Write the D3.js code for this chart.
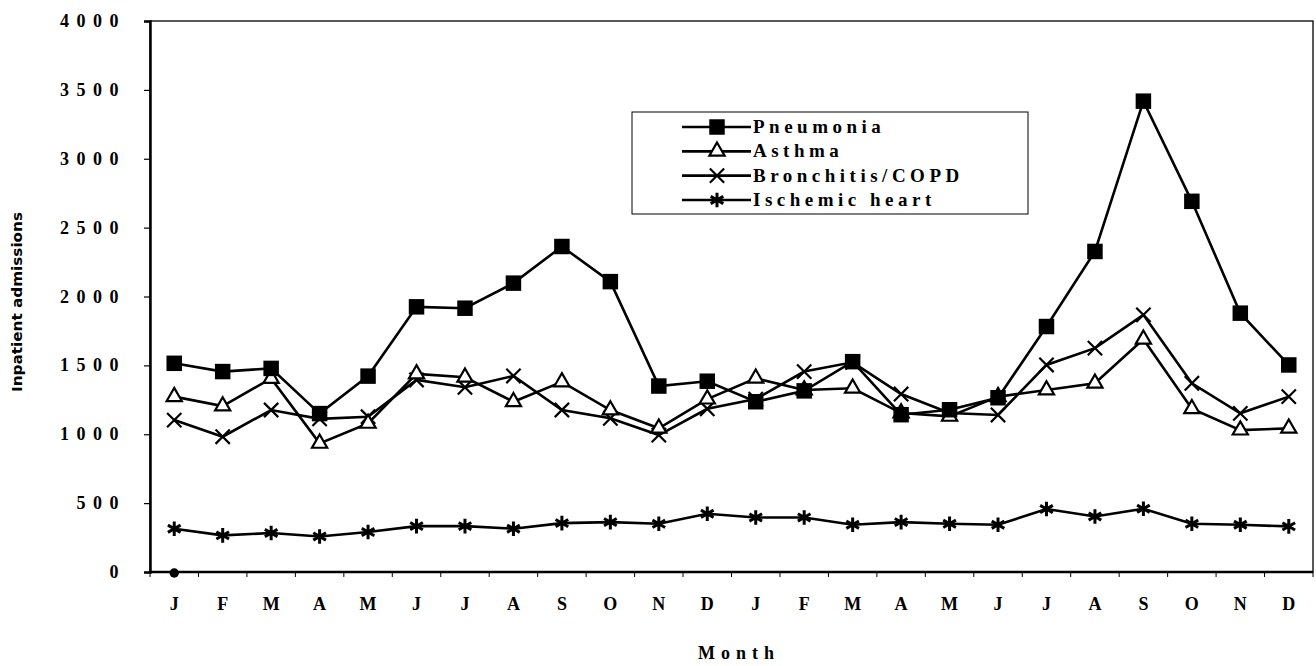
<!DOCTYPE html>
<html>
<head>
<meta charset="utf-8">
<script src="https://cdn.jsdelivr.net/npm/d3@7"></script>
<style>
  body { margin: 0; background: #fff; }
  svg { display: block; }
  .tick-label { font-family: "Liberation Serif", "Times New Roman", serif; font-weight: bold; font-size: 18px; fill: #000; }
  .legend-label { font-family: "Liberation Serif", "Times New Roman", serif; font-weight: bold; font-size: 19px; fill: #000; }
</style>
</head>
<body>
<svg id="chart" width="1316" height="666"></svg>
<script>
// Months (two years)
var months = ['J', 'F', 'M', 'A', 'M', 'J', 'J', 'A', 'S', 'O', 'N', 'D',
  'J', 'F', 'M', 'A', 'M', 'J', 'J', 'A', 'S', 'O', 'N', 'D']

// Series values
var pneumonia = [1515, 1455, 1478, 1150, 1422, 1925, 1915, 2097, 2363, 2108, 1350, 1385,
  1236, 1315, 1527, 1142, 1178, 1265, 1782, 2327, 3418, 2691, 1879, 1503]
var asthma = [1273, 1205, 1405, 934, 1079, 1438, 1414, 1236, 1380, 1176, 1043, 1255,
  1406, 1321, 1334, 1154, 1130, 1273, 1321, 1370, 1690, 1185, 1030, 1043]
var bronchitis = [1103, 982, 1176, 1112, 1127, 1394, 1341, 1423, 1176, 1116, 994, 1185,
  1255, 1455, 1522, 1292, 1154, 1140, 1503, 1625, 1867, 1370, 1152, 1273]
var ischemic = [314, 266, 283, 258, 290, 333, 333, 314, 355, 362, 350, 423,
  396, 396, 343, 362, 350, 343, 457, 403, 459, 350, 343, 331]
var originPoint = [0] // the lone dot sitting on the axis at the first J

var yTicks = [0, 500, 1000, 1500, 2000, 2500, 3000, 3500, 4000]
var seriesNames = ['Pneumonia', 'Asthma', 'Bronchitis/COPD', 'Ischemic heart']

var svg = d3.select('#chart')
var plotLeft = 150, plotRight = 1313, plotTop = 21, plotBottom = 572

var x = d3.scalePoint()
  .domain(d3.range(months.length))
  .range([plotLeft, plotRight])
  .padding(0.5)
var y = d3.scaleLinear().domain([0, 4000]).range([plotBottom, plotTop])
var step = x.step()

// plot frame
svg.append('rect')
  .attr('x', plotLeft).attr('y', plotTop)
  .attr('width', plotRight - plotLeft).attr('height', plotBottom - plotTop)
  .attr('fill', 'none').attr('stroke', '#000').attr('stroke-width', 1.3)

// y axis
var yAxis = svg.append('g')
  .attr('transform', 'translate(' + plotLeft + ',0)')
  .call(d3.axisLeft(y).tickValues(yTicks).tickSize(6).tickFormat(''))
yAxis.select('.domain').attr('stroke-width', 2.5)
yAxis.selectAll('.tick line').attr('stroke-width', 1.2)

svg.append('g').selectAll('text')
  .data(yTicks)
  .enter()
  .append('text')
  .attr('class', 'tick-label')
  .attr('x', 126)
  .attr('y', d => y(d) + 6)
  .attr('text-anchor', 'end')
  .attr('letter-spacing', '7.5px')
  .text(d => d)

// x axis
svg.append('line')
  .attr('x1', plotLeft).attr('x2', plotRight)
  .attr('y1', plotBottom).attr('y2', plotBottom)
  .attr('stroke', '#000').attr('stroke-width', 2.5)
svg.append('g').selectAll('line')
  .data(d3.range(months.length + 1))
  .enter()
  .append('line')
  .attr('x1', d => plotLeft + d * step).attr('x2', d => plotLeft + d * step)
  .attr('y1', plotBottom).attr('y2', plotBottom + 5)
  .attr('stroke', '#000').attr('stroke-width', 1)

svg.append('g').selectAll('text')
  .data(months)
  .enter()
  .append('text')
  .attr('class', 'tick-label')
  .attr('x', (d, i) => x(i))
  .attr('y', 610)
  .attr('text-anchor', 'middle')
  .text(d => d)

// axis titles
svg.append('text')
  .attr('class', 'tick-label')
  .attr('x', 739)
  .attr('y', 659)
  .attr('text-anchor', 'middle')
  .attr('letter-spacing', '6px')
  .text('Month')

svg.append('text')
  .attr('transform', 'translate(22,302) rotate(-90)')
  .attr('text-anchor', 'middle')
  .attr('font-family', '"Liberation Sans Narrow", "DejaVu Sans Condensed", sans-serif')
  .attr('font-weight', 'bold')
  .attr('font-size', '14px')
  .attr('textLength', 180)
  .attr('lengthAdjust', 'spacingAndGlyphs')
  .text('Inpatient admissions')

// series
var symSquare = d3.symbol().type(d3.symbolSquare).size(240)
var symTriangle = d3.symbol().type(d3.symbolTriangle).size(100)
var symTimes = d3.symbol().type(d3.symbolTimes).size(135)
var symAsterisk = d3.symbol().type(d3.symbolAsterisk).size(150)

var series = [
  { name: seriesNames[0], values: pneumonia, sym: symSquare, fill: '#000', stroke: 'none', sw: 0 },
  { name: seriesNames[1], values: asthma, sym: symTriangle, fill: '#fff', stroke: '#000', sw: 2.2 },
  { name: seriesNames[2], values: bronchitis, sym: symTimes, fill: 'none', stroke: '#000', sw: 2.2 },
  { name: seriesNames[3], values: ischemic, sym: symAsterisk, fill: 'none', stroke: '#000', sw: 3 }
]

var line = d3.line()
  .x((d, i) => x(i))
  .y(d => y(d))

// draw bottom-to-top so squares end up on top like the original
var drawOrder = [3, 2, 1, 0]
drawOrder.forEach(function(k) {
  var s = series[k]
  var g = svg.append('g')
  g.append('path')
    .attr('d', line(s.values))
    .attr('fill', 'none')
    .attr('stroke', '#000')
    .attr('stroke-width', 2.6)
  g.selectAll('path.pt')
    .data(s.values)
    .enter()
    .append('path')
    .attr('class', 'pt')
    .attr('transform', (d, i) => 'translate(' + x(i) + ',' + y(d) + ')')
    .attr('d', s.sym)
    .attr('fill', s.fill)
    .attr('stroke', s.stroke)
    .attr('stroke-width', s.sw)
})

svg.append('g').selectAll('path')
  .data(originPoint)
  .enter()
  .append('path')
  .attr('transform', (d, i) => 'translate(' + x(i) + ',' + (y(d) + 1) + ')')
  .attr('d', d3.symbol().type(d3.symbolCircle).size(70))
  .attr('fill', '#000')

// legend
var lg = svg.append('g')
lg.append('rect')
  .attr('x', 632).attr('y', 112)
  .attr('width', 396).attr('height', 102)
  .attr('fill', '#fff').attr('stroke', '#000').attr('stroke-width', 1)

var legendRowY = d3.scalePoint().domain(seriesNames).range([127, 200])
series.forEach(function(s) {
  var ry = legendRowY(s.name)
  lg.append('line')
    .attr('x1', 682).attr('x2', 751)
    .attr('y1', ry).attr('y2', ry)
    .attr('stroke', '#000').attr('stroke-width', 2.6)
  lg.append('path')
    .attr('transform', 'translate(717,' + ry + ')')
    .attr('d', s.sym)
    .attr('fill', s.fill)
    .attr('stroke', s.stroke)
    .attr('stroke-width', s.sw)
  lg.append('text')
    .attr('class', 'legend-label')
    .attr('x', 753)
    .attr('y', ry + 6)
    .attr('letter-spacing', '4.5px')
    .text(s.name)
})
</script>
</body>
</html>
